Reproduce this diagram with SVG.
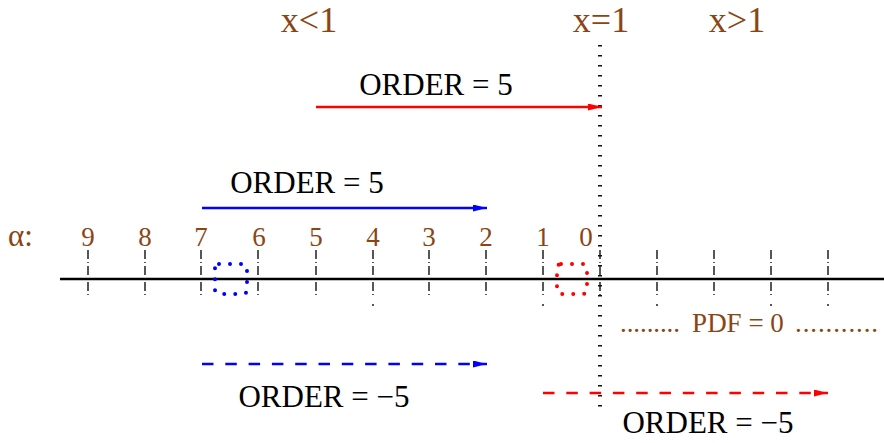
<svg xmlns="http://www.w3.org/2000/svg" width="884" height="443" viewBox="0 0 884 443">
<style>
.br{font-family:"Liberation Serif","Times New Roman",serif;fill:#8b4513}
.bk{font-family:"Liberation Serif","Times New Roman",serif;fill:#000;font-size:31px;text-anchor:middle}
.big{font-size:36px;text-anchor:middle}
.num{font-size:27px;text-anchor:middle}
.tick{stroke:#111;stroke-width:1.4;stroke-dasharray:9 3 1 3;fill:none}
.dot{stroke:#111;stroke-width:1.4;fill:none}
.box{fill:none;stroke-width:4;stroke-linecap:round;stroke-dasharray:0 11}
</style>
<defs>
<marker id="ar" markerUnits="userSpaceOnUse" markerWidth="15" markerHeight="8" refX="14" refY="3.5" orient="auto"><path d="M0,0 L14,3.5 L0,7 z" fill="#f00"/></marker>
<marker id="ab" markerUnits="userSpaceOnUse" markerWidth="15" markerHeight="8" refX="14" refY="3.5" orient="auto"><path d="M0,0 L14,3.5 L0,7 z" fill="#00f"/></marker>
</defs>
<rect width="884" height="443" fill="#fff"/>
<g id="labels-top">
<text class="br big" x="309" y="32">x&lt;1</text>
<text class="br big" x="601" y="32">x=1</text>
<text class="br big" x="737" y="32">x&gt;1</text>
</g>
<g id="axis">
<line x1="60" y1="279" x2="884" y2="279" stroke="#000" stroke-width="2.6"/>
<line x1="600" y1="45" x2="600" y2="407" stroke="#111" stroke-width="4" stroke-dasharray="1.5 8.5"/>
<g id="ticks">
<line class="tick" x1="88" y1="250" x2="88" y2="296"/>
<line class="tick" x1="145" y1="250" x2="145" y2="296"/>
<line class="tick" x1="201" y1="250" x2="201" y2="296"/>
<line class="tick" x1="258" y1="250" x2="258" y2="296"/>
<line class="tick" x1="316" y1="250" x2="316" y2="296"/>
<line class="tick" x1="373" y1="250" x2="373" y2="296"/>
<line class="tick" x1="429" y1="250" x2="429" y2="296"/>
<line class="tick" x1="486" y1="250" x2="486" y2="296"/>
<line class="tick" x1="543" y1="250" x2="543" y2="296"/>
<line class="tick" x1="600" y1="250" x2="600" y2="296"/>
<line class="tick" x1="657" y1="250" x2="657" y2="296"/>
<line class="tick" x1="714" y1="250" x2="714" y2="296"/>
<line class="tick" x1="771" y1="250" x2="771" y2="296"/>
<line class="tick" x1="828" y1="250" x2="828" y2="296"/>
<line class="dot" x1="373" y1="304" x2="373" y2="306"/>
<line class="dot" x1="543" y1="304" x2="543" y2="306"/>
<line class="dot" x1="657" y1="304" x2="657" y2="306"/>
<line class="dot" x1="771" y1="304" x2="771" y2="306"/>
<line class="dot" x1="828" y1="304" x2="828" y2="306"/>
</g>
<g id="alpha">
<text class="br" font-size="31" x="8" y="246">α:</text>
<text class="br num" x="88" y="246">9</text>
<text class="br num" x="145" y="246">8</text>
<text class="br num" x="201" y="246">7</text>
<text class="br num" x="259" y="246">6</text>
<text class="br num" x="316" y="246">5</text>
<text class="br num" x="373" y="246">4</text>
<text class="br num" x="429" y="246">3</text>
<text class="br num" x="486" y="246">2</text>
<text class="br num" x="543" y="246">1</text>
<text class="br num" x="586" y="246">0</text>
</g>
</g>
<g id="box-blue"><rect class="box" x="215" y="264" width="32" height="30" rx="4" stroke="#00f"/></g>
<g id="box-red"><rect class="box" x="557" y="264" width="30" height="30" rx="4" stroke="#f00"/></g>
<g id="pdf">
<text class="br" font-size="27" x="620" y="332" textLength="60" lengthAdjust="spacing">.........</text>
<text class="br num" x="738" y="332">PDF = 0</text>
<text class="br" font-size="27" x="795" y="332" textLength="83" lengthAdjust="spacing">...........</text>
</g>
<g id="connectors">
<line x1="316" y1="107" x2="602" y2="107" stroke="#f00" stroke-width="2.6" marker-end="url(#ar)"/>
<line x1="202" y1="208" x2="487" y2="208" stroke="#00f" stroke-width="2.6" marker-end="url(#ab)"/>
<line x1="202" y1="364" x2="487" y2="364" stroke="#00f" stroke-width="2.6" stroke-dasharray="11.5 11.8" marker-end="url(#ab)"/>
<line x1="543" y1="393" x2="828" y2="393" stroke="#f00" stroke-width="2.6" stroke-dasharray="11.5 11.8" marker-end="url(#ar)"/>
</g>
<g id="order-labels">
<text class="bk" x="436" y="95">ORDER = 5</text>
<text class="bk" x="307" y="193">ORDER = 5</text>
<text class="bk" x="324" y="407">ORDER = −5</text>
<text class="bk" x="708" y="433">ORDER = −5</text>
</g>
</svg>
